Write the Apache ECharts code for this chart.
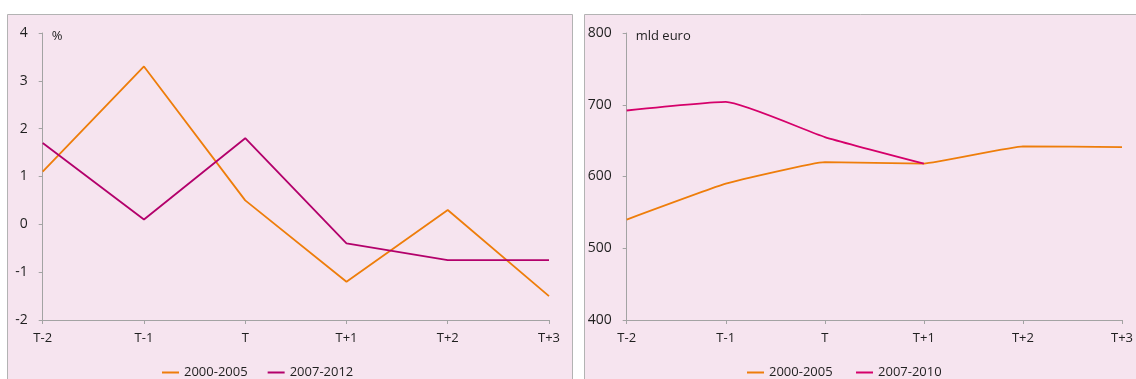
<!DOCTYPE html>
<html>
<head>
<meta charset="utf-8">
<script src="https://cdn.jsdelivr.net/npm/echarts@6/dist/echarts.min.js"></script>
<style>
  html, body { margin: 0; padding: 0; background: #ffffff; }
  #chart { width: 1136px; height: 379px; }
</style>
</head>
<body>
<div id="chart"></div>
<script>
// Periods around the start of the crisis
const categories = ['T-2', 'T-1', 'T', 'T+1', 'T+2', 'T+3'];

// Left panel: growth, %
const growth2000 = [1.1, 3.3, 0.5, -1.2, 0.3, -1.5];
const growth2007 = [1.7, 0.1, 1.8, -0.4, -0.75, -0.75];

// Right panel: level, mld euro
const level2000 = [540, 590, 620, 618, 642, 641];
const level2007 = [692, 704, 655, 618];

const ORANGE = '#ee7d0a';
const PURPLE = '#b3006b';
const PINK = '#d5006a';
const PANEL_BG = '#f6e4ef';
const AXIS = '#a3a3a3';
const FONT = 'Open Sans';

const chart = echarts.init(document.getElementById('chart'), null, { renderer: 'canvas' });

const axisLabel = { color: '#1f1f1f', fontFamily: FONT, fontSize: 13 };

function xAxisFor(gridIndex) {
  return {
    type: 'category', gridIndex, data: categories, boundaryGap: false,
    axisLine: { onZero: false, lineStyle: { color: AXIS, width: 1 } },
    axisTick: { show: true, length: 4, alignWithLabel: true, lineStyle: { color: AXIS } },
    axisLabel: Object.assign({ margin: 12, interval: 0 }, axisLabel),
    splitLine: { show: false }
  };
}

function yAxisFor(gridIndex, min, max, interval, unit) {
  return {
    type: 'value', gridIndex, min, max, interval,
    name: unit, nameLocation: 'end', nameGap: -3,
    nameTextStyle: { color: '#1f1f1f', fontFamily: FONT, fontSize: 13, align: 'left', verticalAlign: 'middle', padding: [0, 0, 0, 9] },
    axisLine: { show: true, lineStyle: { color: AXIS, width: 1 } },
    axisTick: { show: true, length: 4, lineStyle: { color: AXIS } },
    axisLabel: Object.assign({ margin: 15, padding: [5, 0, 0, 0] }, axisLabel, { fontSize: 14 }),
    splitLine: { show: false }
  };
}

function lineSeries(name, data, color, xi, smooth) {
  return {
    type: 'line', name, data, xAxisIndex: xi, yAxisIndex: xi,
    symbol: 'none', smooth: smooth || false,
    lineStyle: { color, width: 1.8 }, itemStyle: { color },
    animation: false
  };
}

const legendCommon = {
  orient: 'horizontal', icon: 'rect', itemWidth: 17, itemHeight: 2, itemGap: 20,
  textStyle: { color: '#1f1f1f', fontFamily: FONT, fontSize: 13 }, top: 361
};

chart.setOption({
  animation: false,
  backgroundColor: '#ffffff',
  graphic: [
    { type: 'rect', shape: { x: 7.5, y: 14.5, width: 565, height: 380 }, style: { fill: PANEL_BG, stroke: '#b3b3b3', lineWidth: 1 }, z: -10 },
    { type: 'rect', shape: { x: 584.5, y: 14.5, width: 570, height: 380 }, style: { fill: PANEL_BG, stroke: '#b3b3b3', lineWidth: 1 }, z: -10 }
  ],
  grid: [
    { left: 42.7, right: 587, top: 33, bottom: 59 },
    { left: 626.7, right: 4.3, top: 33, bottom: 59 }
  ],
  xAxis: [xAxisFor(0), xAxisFor(1)],
  yAxis: [yAxisFor(0, -2, 4, 1, '%'), yAxisFor(1, 400, 800, 100, 'mld euro')],
  legend: [
    Object.assign({ left: 157, data: ['2000-2005', '2007-2012'] }, legendCommon),
    Object.assign({ left: 742, data: ['2000-2005 ', '2007-2010'] }, legendCommon)
  ],
  series: [
    lineSeries('2000-2005', growth2000, ORANGE, 0),
    lineSeries('2007-2012', growth2007, PURPLE, 0),
    lineSeries('2000-2005 ', level2000, ORANGE, 1, 0.1),
    lineSeries('2007-2010', level2007, PINK, 1, 0.15)
  ]
});
</script>
</body>
</html>
